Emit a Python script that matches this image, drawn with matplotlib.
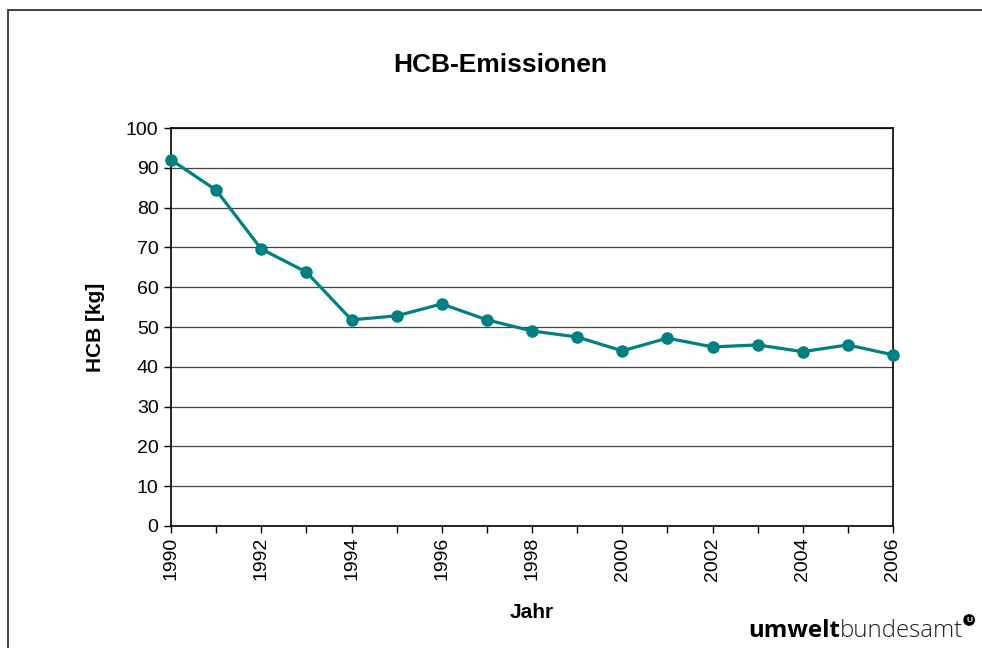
import matplotlib
matplotlib.use('Agg')
import matplotlib.pyplot as plt
from matplotlib.patches import Rectangle

plt.rcParams['font.family'] = ['Liberation Sans', 'DejaVu Sans']

years = list(range(1990, 2007))
hcb_kg = [92.0, 84.4, 69.6, 63.8, 51.8, 52.8, 55.8, 51.8, 49.0, 47.5,
          44.0, 47.2, 45.0, 45.5, 43.8, 45.5, 43.0]
y_ticks = list(range(0, 101, 10))

fig = plt.figure(figsize=(9.82, 6.48), dpi=100)

# outer frame (clipped at right and bottom like the original export)
fig.patches.append(Rectangle((8 / 982, -0.1), 1.2, 1 - 10 / 648 + 0.1,
                             transform=fig.transFigure, fill=False,
                             edgecolor='#333333', linewidth=1.3))

ax = fig.add_axes([171 / 982, 1 - 526 / 648, 722 / 982, 398 / 648])
ax.plot(years, hcb_kg, color='#008080', linewidth=2.3, marker='o',
        markersize=8, clip_on=False, zorder=3)

ax.set_xlim(1990, 2006)
ax.set_ylim(0, 100)
ax.set_yticks(y_ticks)
ax.set_xticks(range(1990, 2007))
ax.set_xticklabels([str(y) if y % 2 == 0 else '' for y in years],
                   rotation=90, fontsize=14)
ax.tick_params(axis='y', labelsize=14, length=5, width=1, direction='out', pad=4)
ax.tick_params(axis='x', length=5, width=1, direction='out', pad=3)
ax.grid(axis='y', color='#444444', linewidth=0.9)
ax.set_axisbelow(True)
for sp in ax.spines.values():
    sp.set_linewidth(1.2)
    sp.set_color('black')

ax.set_ylabel('HCB [kg]', fontsize=15, fontweight='bold', labelpad=15)
ax.set_xlabel('Jahr', fontsize=15, fontweight='bold', labelpad=16)
fig.text(500 / 982, 1 - 65 / 648, 'HCB-Emissionen', ha='center', va='center',
         fontsize=19, fontweight='bold')

# logo text: place "bundesamt" right after "umwelt"
fig.canvas.draw()
r = fig.canvas.get_renderer()
t1 = fig.text(748 / 982, 1 - 631 / 648, 'umwelt', fontsize=17.3, fontweight='bold',
              family='Open Sans', ha='left', va='center')
x1 = t1.get_window_extent(r).x1
t2 = fig.text(x1 / 982, 1 - 631 / 648, 'bundesamt', fontsize=17.3, fontweight='light',
              family='Open Sans', ha='left', va='center', color='#222222')
x2 = t2.get_window_extent(r).x1
fig.text((x2 + 6) / 982, 1 - 620 / 648, 'U', fontsize=6, fontweight='bold',
         color='white', ha='center', va='center',
         bbox=dict(boxstyle='circle,pad=0.2', fc='black', ec='black'))

fig.savefig('out.png', dpi=100)
